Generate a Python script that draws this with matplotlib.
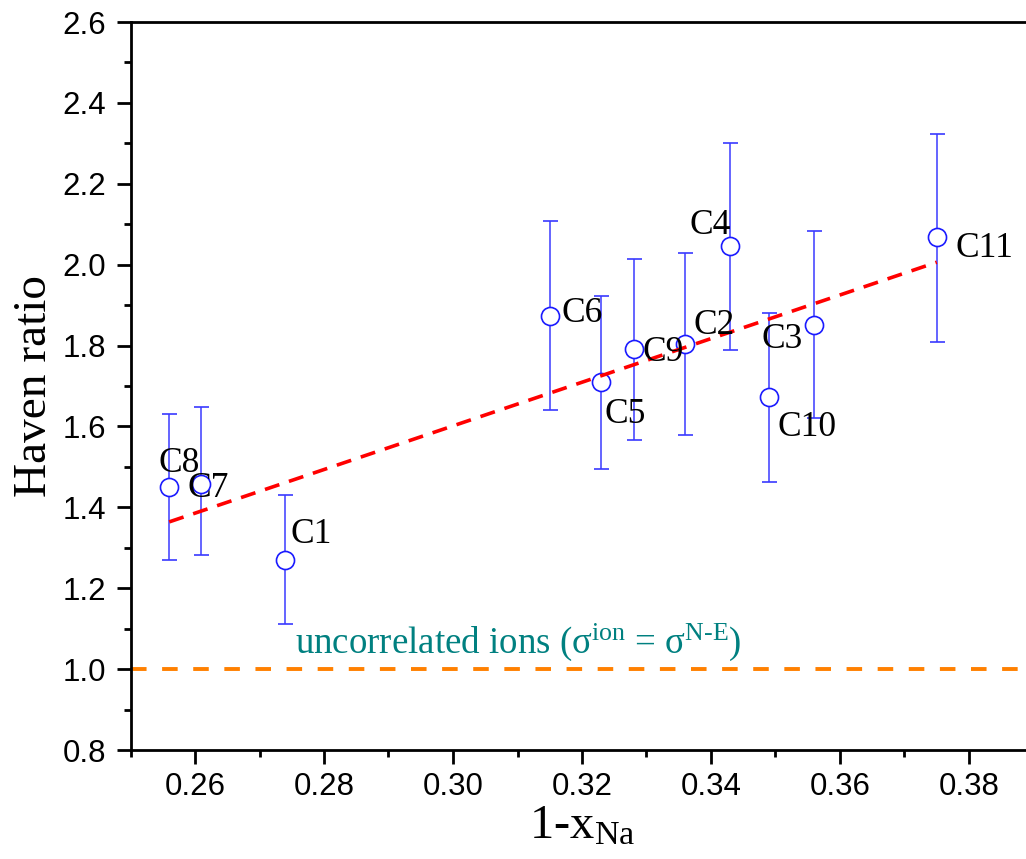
import matplotlib
matplotlib.use("Agg")
import matplotlib.pyplot as plt
import numpy as np
from matplotlib.ticker import MultipleLocator

plt.rcParams["mathtext.fontset"] = "custom"
plt.rcParams["mathtext.rm"] = "Liberation Serif"
plt.rcParams["mathtext.it"] = "Liberation Serif:italic"
plt.rcParams["mathtext.bf"] = "Liberation Serif:bold"

# Haven ratio vs 1-x_Na
samples = ["C8", "C7", "C1", "C6", "C5", "C9", "C2", "C4", "C10", "C3", "C11"]
x_na = [0.256, 0.261, 0.274, 0.315, 0.323, 0.328, 0.336, 0.343, 0.349, 0.356, 0.375]
haven = [1.450, 1.458, 1.270, 1.874, 1.711, 1.791, 1.804, 2.047, 1.673, 1.852, 2.068]
haven_upper = [1.631, 1.649, 1.430, 2.108, 1.922, 2.015, 2.028, 2.301, 1.880, 2.083, 2.324]
haven_lower = [1.270, 1.283, 1.112, 1.641, 1.496, 1.567, 1.578, 1.790, 1.462, 1.620, 1.809]

fit_x = [0.256, 0.375]
fit_y = [1.364, 2.006]

uncorr_level = 1.0

# label offsets from each marker, in pixels (dx, dy up)
label_offsets = {
    "C8": (-11, 24), "C7": (-14, -5), "C1": (5, 25), "C6": (12, 2),
    "C5": (3, -33), "C9": (9, -3), "C2": (8, 18), "C4": (-41, 20),
    "C10": (8, -31), "C3": (-53, -15), "C11": (19, -11),
}

SERIF = "Liberation Serif"
SANS = "Liberation Sans"

fig = plt.figure(figsize=(10.26, 8.59), dpi=100)
ax = fig.add_axes([130.5 / 1026, 109 / 859, 903 / 1026, 728 / 859])

haven_arr = np.array(haven)
yerr = [haven_arr - np.array(haven_lower), np.array(haven_upper) - haven_arr]

ax.axhline(uncorr_level, color="#ff8000", linewidth=2.8,
           dashes=(4.0, 4.0), zorder=1)

ax.errorbar(x_na, haven, yerr=yerr, fmt="o", color="#3a3aff",
            ecolor="#3a3aff", elinewidth=1.1, capsize=5.4, capthick=1.1,
            markersize=13, markerfacecolor="white", markeredgecolor="#1a1aff",
            markeredgewidth=1.2, zorder=2)

ax.plot(fit_x, fit_y, color="#ff0000", linewidth=2.6, dashes=(4.2, 2.8),
        zorder=3)

for name, xv, yv in zip(samples, x_na, haven):
    dx, dy = label_offsets[name]
    ax.annotate(name, (xv, yv), xytext=(dx * 0.72, dy * 0.72),
                textcoords="offset points", ha="left", va="center",
                fontsize=25.5, family=SERIF, color="black", zorder=4)

ax.text(0.2755, 1.040,
        r"uncorrelated ions (σ$^{\mathrm{ion}}$ = σ$^{\mathrm{N}\text{-}\mathrm{E}}$)",
        fontsize=26.6, family=SERIF, color="#008080", ha="left", va="baseline")

ax.set_xlim(0.25, 0.39)
ax.set_ylim(0.8, 2.6)
ax.xaxis.set_major_locator(MultipleLocator(0.02))
ax.xaxis.set_minor_locator(MultipleLocator(0.01))
ax.yaxis.set_major_locator(MultipleLocator(0.2))
ax.yaxis.set_minor_locator(MultipleLocator(0.1))
ax.xaxis.set_major_formatter(matplotlib.ticker.FormatStrFormatter("%.2f"))
ax.yaxis.set_major_formatter(matplotlib.ticker.FormatStrFormatter("%.1f"))

for side in ["left", "bottom", "top", "right"]:
    ax.spines[side].set_linewidth(2.0)
ax.tick_params(which="major", direction="out", length=9.8, width=2.0,
               labelsize=22.5, top=False, right=False)
ax.tick_params(which="minor", direction="out", length=5, width=2.0,
               top=False, right=False)
ax.tick_params(axis="x", which="major", pad=6)
ax.tick_params(axis="y", which="major", pad=8)
for lab in ax.get_xticklabels() + ax.get_yticklabels():
    lab.set_family(SANS)

ax.set_xlabel(r"1-x$_{\mathrm{Na}}$", fontsize=35, family=SERIF, labelpad=2)
ax.set_ylabel("Haven ratio", fontsize=34, family=SERIF)
ax.yaxis.set_label_coords(-0.083, 0.5)

fig.savefig("out.png", dpi=100)
